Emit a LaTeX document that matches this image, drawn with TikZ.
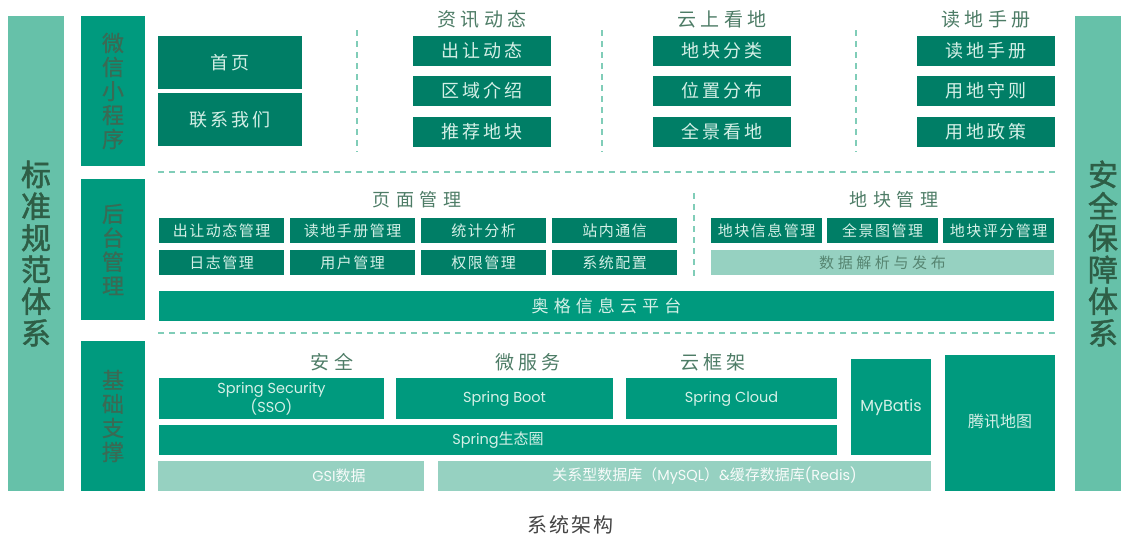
\documentclass[tikz,border=0pt]{standalone}
\usepackage{fontspec}
\setmainfont{Noto Sans CJK SC}
\newfontfamily\lat{Poppins}
\newfontfamily\cjkfb[FakeBold=1.6]{Noto Sans CJK SC}
\newfontfamily\cjkfs[FakeBold=0.6]{Noto Sans CJK SC}
\definecolor{barL}{HTML}{66C1A9}
\definecolor{midT}{HTML}{009A7E}
\definecolor{darkT}{HTML}{007E66}
\definecolor{liteB}{HTML}{96D1C1}
\definecolor{dashC}{HTML}{80CDB8}
\definecolor{lblT}{HTML}{3A6A54}
\definecolor{barT}{HTML}{2E5E46}
\definecolor{ttlT}{HTML}{4D7C66}
\definecolor{boxT}{HTML}{D5F0E7}
\definecolor{liteT}{HTML}{568571}
\definecolor{capT}{HTML}{444444}
\newcommand\bx[7]{\node[#6, minimum width={#4pt-#2pt}, minimum height={#5pt-#3pt}] (#1) at ({(#2+#4)/2},{(#3+#5)/2}) {#7};}
\tikzset{
  base/.style={inner sep=0pt, outer sep=0pt, draw=none},
  dk/.style={base, fill=darkT, text=boxT},
  md/.style={base, fill=midT, text=boxT},
  lt/.style={base, fill=liteB, text=liteT},
  ltw/.style={base, fill=liteB, text=white!92!liteB},
  sidebar/.style={base, fill=barL, text=barT, align=center, font=\cjkfb\fontsize{30}{31.7}\selectfont},
  sidelbl/.style={base, fill=midT, text=lblT, align=center, font=\cjkfs\fontsize{22}{24}\selectfont},
  tA/.style={font=\fontsize{18}{20}\selectfont\addfontfeatures{LetterSpace=17}},
  tB/.style={font=\fontsize{15}{17}\selectfont\addfontfeatures{LetterSpace=10}},
  tC/.style={font=\fontsize{15}{17}\selectfont\addfontfeatures{LetterSpace=24}},
  tD/.style={font=\fontsize{17}{19}\selectfont\addfontfeatures{LetterSpace=30}},
  tL/.style={font=\lat\fontsize{14.5}{19}\selectfont, align=center},
  tK/.style={font=\fontsize{16}{18}\selectfont},
  ttl/.style={inner sep=0pt, text=ttlT, font=\fontsize{19}{21}\selectfont\addfontfeatures{LetterSpace=22}},
  ttlm/.style={inner sep=0pt, text=ttlT, font=\fontsize{18}{20}\selectfont\addfontfeatures{LetterSpace=30}},
  sep/.style={draw=dashC, line width=1.5pt, dash pattern=on 6pt off 5pt},
}
\begin{document}
\begin{tikzpicture}[x=1pt,y=-1pt]
\useasboundingbox (0,0) rectangle (1121,538);
% side bars
\bx{lbar}{8}{16}{64}{491}{sidebar}{标\\准\\规\\范\\体\\系}
\fill[barL] (1075,16) rectangle (1121,491);
\node[base, text=barT, align=center, font=\cjkfb\fontsize{30}{31.7}\selectfont] (rbar) at (1103,253.5) {安\\全\\保\\障\\体\\系};
% section labels
\bx{s1}{81}{16}{145}{166}{sidelbl}{微\\信\\小\\程\\序}
\bx{s2}{81}{179}{145}{320}{sidelbl}{后\\台\\管\\理}
\bx{s3}{81}{341}{145}{491}{sidelbl}{基\\础\\支\\撑}
% --- top section
\bx{home}{158}{36}{302}{89}{dk,tA}{首页}
\bx{contact}{158}{93}{302}{146}{dk,tA}{联系我们}
\node[ttl] (t1) at (482,19) {资讯动态};
\node[ttl] (t2) at (722,19) {云上看地};
\node[ttl] (t3) at (986,19) {读地手册};
\bx{a1}{413}{36}{551}{66}{dk,tA}{出让动态}
\bx{a2}{413}{76}{551}{106}{dk,tA}{区域介绍}
\bx{a3}{413}{117}{551}{147}{dk,tA}{推荐地块}
\bx{b1}{653}{36}{791}{66}{dk,tA}{地块分类}
\bx{b2}{653}{76}{791}{106}{dk,tA}{位置分布}
\bx{b3}{653}{117}{791}{147}{dk,tA}{全景看地}
\bx{c1}{917}{36}{1055}{66}{dk,tA}{读地手册}
\bx{c2}{917}{76}{1055}{106}{dk,tA}{用地守则}
\bx{c3}{917}{117}{1055}{147}{dk,tA}{用地政策}
\draw[sep] (357,30) -- (357,152);
\draw[sep] (602,30) -- (602,152);
\draw[sep] (856,30) -- (856,152);
\draw[sep] (158,172) -- (1055,172);
% --- middle section
\node[ttlm] (t4) at (417,200) {页面管理};
\node[ttlm] (t5) at (894,200) {地块管理};
\bx{m1}{159}{218}{284}{243}{dk,tB}{出让动态管理}
\bx{m2}{290}{218}{415}{243}{dk,tB}{读地手册管理}
\bx{m3}{421}{218}{546}{243}{dk,tB}{统计分析}
\bx{m4}{552}{218}{677}{243}{dk,tB}{站内通信}
\bx{m5}{159}{250}{284}{275}{dk,tB}{日志管理}
\bx{m6}{290}{250}{415}{275}{dk,tB}{用户管理}
\bx{m7}{421}{250}{546}{275}{dk,tB}{权限管理}
\bx{m8}{552}{250}{677}{275}{dk,tB}{系统配置}
\bx{n1}{711}{218}{822}{243}{dk,tB}{地块信息管理}
\bx{n2}{827}{218}{938}{243}{dk,tB}{全景图管理}
\bx{n3}{943}{218}{1054}{243}{dk,tB}{地块评分管理}
\bx{n4}{711}{250}{1054}{275}{lt,tC}{数据解析与发布}
\draw[sep] (694,193) -- (694,278);
\bx{cloud}{159}{291}{1054}{321}{md,tD}{奥格信息云平台}
\draw[sep] (158,333) -- (1055,333);
% --- bottom section
\node[ttl] (t6) at (332,362) {安全};
\node[ttl] (t7) at (528,362) {微服务};
\node[ttl] (t8) at (713,362) {云框架};
\bx{sec}{159}{378}{384}{419}{md,tL}{Spring Security\\(SSO)}
\bx{boot}{396}{378}{613}{419}{md,tL}{Spring Boot}
\bx{scloud}{626}{378}{837}{419}{md,tL}{Spring Cloud}
\bx{eco}{159}{425}{837}{455}{md,tL}{Spring{\rmfamily\fontsize{15}{17}\selectfont 生态圈}}
\bx{gsi}{158}{461}{424}{491}{ltw,tL}{\hspace*{96pt}GSI{\rmfamily\fontsize{15}{17}\selectfont 数据}}
\bx{db}{438}{461}{931}{491}{ltw,tL}{\hspace*{40pt}{\rmfamily\fontsize{15}{17}\selectfont 关系型数据库（}MySQL{\rmfamily\fontsize{15}{17}\selectfont ）}\&{\rmfamily\fontsize{15}{17}\selectfont 缓存数据库}(Redis)}
\bx{mybatis}{851}{359}{931}{455}{md,tL,font=\lat\fontsize{16}{19}\selectfont}{MyBatis}
\bx{tmap}{945}{355}{1055}{491}{md,tK}{\raisebox{5pt}{腾讯地图}}
% caption
\node[inner sep=0pt, text=capT, font=\fontsize{20}{22}\selectfont\addfontfeatures{LetterSpace=10}] (cap) at (570,525) {系统架构};
\end{tikzpicture}
\end{document}
